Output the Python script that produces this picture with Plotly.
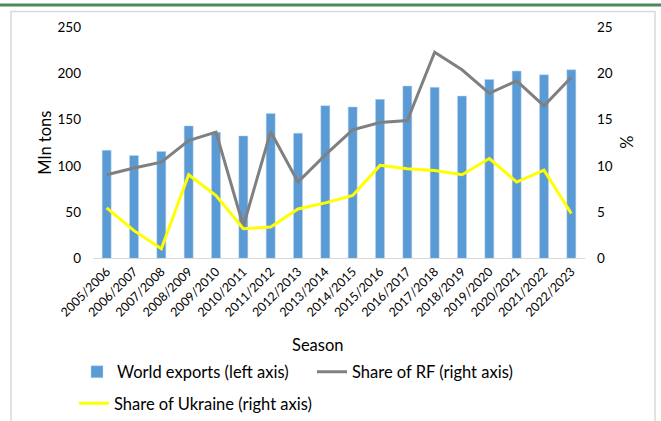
import plotly.graph_objects as go

seasons = ["2005/2006", "2006/2007", "2007/2008", "2008/2009", "2009/2010", "2010/2011",
           "2011/2012", "2012/2013", "2013/2014", "2014/2015", "2015/2016", "2016/2017",
           "2017/2018", "2018/2019", "2019/2020", "2020/2021", "2021/2022", "2022/2023"]
world_exports = [117, 111.3, 115.7, 143.3, 136.5, 132.5, 156.6, 135.4, 165.2, 163.8,
                 172, 186.4, 185, 175.6, 193.6, 202.6, 198.6, 204]
share_rf = [9.05, 9.77, 10.4, 12.75, 13.65, 3.5, 13.7, 8.26, 11.2, 13.9,
            14.7, 14.9, 22.3, 20.4, 17.85, 19.2, 16.5, 19.6]
share_ukraine = [5.46, 3.0, 1.04, 9.05, 6.8, 3.2, 3.4, 5.35, 6.0, 6.8,
                 10.06, 9.7, 9.5, 9.05, 10.8, 8.26, 9.55, 4.85]
left_ticks = [0, 50, 100, 150, 200, 250]
right_ticks = [0, 5, 10, 15, 20, 25]

W, H = 661, 421
FONT = "Lato"
px = lambda v: v / W
py = lambda v: 1 - v / H

fig = go.Figure()
fig.add_trace(go.Bar(x=seasons, y=world_exports, name="World exports (left axis)",
                     marker=dict(color="#5B9BD5", line=dict(color="#BDD7EE", width=0.5)),
                     legend="legend"))
fig.add_trace(go.Scatter(x=seasons, y=share_rf, name="Share of RF (right axis)", mode="lines",
                         line=dict(color="#808080", width=3), yaxis="y2", legend="legend"))
fig.add_trace(go.Scatter(x=seasons, y=share_ukraine, name="Share of Ukraine (right axis)", mode="lines",
                         line=dict(color="#FFFF00", width=3), yaxis="y2", legend="legend2"))

fig.update_layout(
    width=W, height=H, margin=dict(l=0, r=0, t=0, b=0),
    paper_bgcolor="white", plot_bgcolor="white",
    font=dict(family=FONT, size=12, color="#000000"),
    bargap=0.67,
    xaxis=dict(domain=[px(93), px(585)], tickangle=-45, showgrid=False,
               showline=True, linecolor="#D9D9D9", linewidth=1, ticks="",
               tickfont=dict(size=12.5, color="#000"), automargin=False),
    yaxis=dict(range=[0, 250], tickvals=left_ticks, showgrid=False, zeroline=False,
               showline=False, ticks="", ticklabelstandoff=11,
               domain=[py(259), py(27.3)], tickfont=dict(size=13.5), automargin=False),
    yaxis2=dict(range=[0, 25], tickvals=right_ticks, overlaying="y", side="right",
                showgrid=False, zeroline=False, showline=False, ticks="",
                ticklabelstandoff=11, tickfont=dict(size=13.5), automargin=False),
    legend=dict(orientation="h", x=px(77), y=py(372), yanchor="middle", xanchor="left",
                font=dict(size=16.5, family=FONT), entrywidth=190, entrywidthmode="pixels",
                bgcolor="rgba(0,0,0,0)"),
    legend2=dict(orientation="h", x=px(74), y=py(404), yanchor="middle", xanchor="left",
                 font=dict(size=16.5, family=FONT), bgcolor="rgba(0,0,0,0)"),
    showlegend=True,
)

fig.add_annotation(text="Mln tons", x=px(45), y=py(143), xref="paper", yref="paper",
                   xanchor="center", yanchor="middle",
                   textangle=-90, showarrow=False, font=dict(size=16.5, family=FONT))
fig.add_annotation(text="%", x=px(627), y=py(143), xref="paper", yref="paper",
                   xanchor="center", yanchor="middle",
                   textangle=-90, showarrow=False, font=dict(size=16.5, family=FONT))
fig.add_annotation(text="Season", x=px(318), y=py(346), xref="paper", yref="paper",
                   xanchor="center", yanchor="middle",
                   showarrow=False, font=dict(size=16.5, family=FONT))

fig.add_shape(type="rect", xref="paper", yref="paper", x0=px(11), x1=px(655),
              y0=-0.05, y1=py(11.5), line=dict(color="#D9D9D9", width=1.5), layer="below")
fig.add_shape(type="line", xref="paper", yref="paper", x0=0, x1=1, y0=py(5), y1=py(5),
              line=dict(color="#4A8A5A", width=3))

fig.write_html("out.html", config={"displayModeBar": False},
               post_script="document.body.style.margin='0';")
